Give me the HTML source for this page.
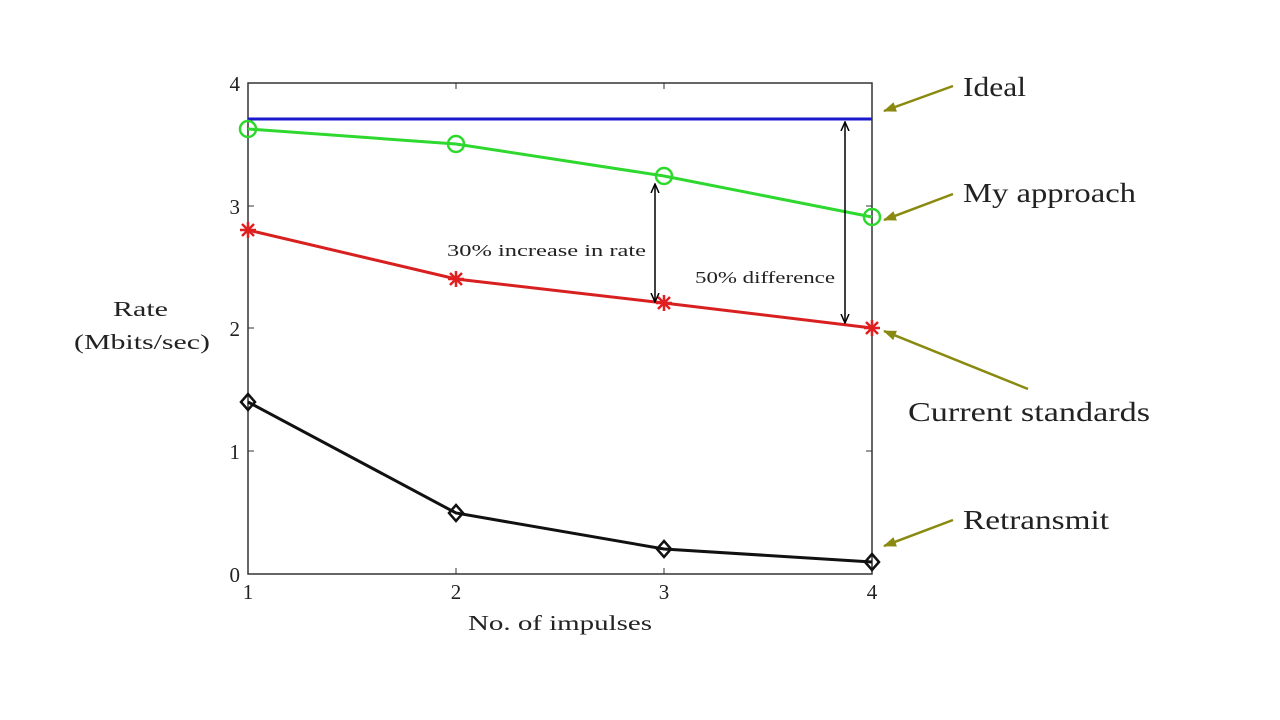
<!DOCTYPE html>
<html><head><meta charset="utf-8"><style>
html,body{margin:0;padding:0;background:#fff;}
svg{display:block;}
text{font-family:"Liberation Serif",serif;fill:#222;}
</style></head><body>
<svg width="1280" height="720" viewBox="0 0 1280 720" xmlns="http://www.w3.org/2000/svg">
<defs>
<marker id="ah" markerWidth="10" markerHeight="10" refX="9" refY="5" orient="auto" markerUnits="userSpaceOnUse">
<path d="M0,1 L9,5 L0,9" fill="none" stroke="#000" stroke-width="1.5"/></marker>
<marker id="oh" markerWidth="14" markerHeight="10" refX="12" refY="5" orient="auto" markerUnits="userSpaceOnUse">
<path d="M0,0 L13,5 L0,10 Z" fill="#8a8a10"/></marker>
</defs>
<rect x="248" y="83" width="624" height="491" fill="none" stroke="#333" stroke-width="1.5"/>
<g stroke="#333" stroke-width="1">
<line x1="456" y1="574" x2="456" y2="568"/><line x1="664" y1="574" x2="664" y2="568"/>
<line x1="456" y1="83" x2="456" y2="89"/><line x1="664" y1="83" x2="664" y2="89"/>
<line x1="248" y1="451" x2="254" y2="451"/><line x1="248" y1="328" x2="254" y2="328"/><line x1="248" y1="206" x2="254" y2="206"/>
<line x1="872" y1="451" x2="866" y2="451"/><line x1="872" y1="328" x2="866" y2="328"/><line x1="872" y1="206" x2="866" y2="206"/>
</g>
<g font-size="21" text-anchor="end">
<text x="240" y="582">0</text><text x="240" y="459">1</text><text x="240" y="336">2</text><text x="240" y="214">3</text><text x="240" y="91">4</text>
</g>
<g font-size="21" text-anchor="middle">
<text x="248" y="599">1</text><text x="456" y="599">2</text><text x="664" y="599">3</text><text x="872" y="599">4</text>
</g>
<g font-size="21">
<text x="468" y="630" textLength="184" lengthAdjust="spacingAndGlyphs">No. of impulses</text>
<text x="113" y="316" textLength="55" lengthAdjust="spacingAndGlyphs">Rate</text>
<text x="74" y="349" textLength="136" lengthAdjust="spacingAndGlyphs">(Mbits/sec)</text>
</g>
<line x1="248" y1="119" x2="872" y2="119" stroke="#1a1acc" stroke-width="3"/>
<polyline points="248,129 456,144 664,176 872,217" fill="none" stroke="#2ed82e" stroke-width="3"/>
<g fill="none" stroke="#2ed82e" stroke-width="2.5">
<circle cx="248" cy="129" r="8"/><circle cx="456" cy="144" r="8"/><circle cx="664" cy="176" r="8"/><circle cx="872" cy="217" r="8"/></g>
<polyline points="248,230 456,279 664,303 872,328" fill="none" stroke="#d82020" stroke-width="3"/>
<g stroke="#e02020" stroke-width="2.5">
<path d="M240,230h16M248,222v16M242,224l12,12M254,224l-12,12"/>
<path d="M448,279h16M456,271v16M450,273l12,12M462,273l-12,12"/>
<path d="M656,303h16M664,295v16M658,297l12,12M670,297l-12,12"/>
<path d="M864,328h16M872,320v16M866,322l12,12M878,322l-12,12"/>
</g>
<polyline points="248,402 456,513 664,549 872,562" fill="none" stroke="#111" stroke-width="3"/>
<g fill="none" stroke="#111" stroke-width="2.5">
<path d="M248,394l7,8l-7,8l-7,-8z"/><path d="M456,505l7,8l-7,8l-7,-8z"/><path d="M664,541l7,8l-7,8l-7,-8z"/><path d="M872,554l7,8l-7,8l-7,-8z"/>
</g>
<line x1="655" y1="240" x2="655" y2="184" stroke="#000" stroke-width="1.5" marker-end="url(#ah)"/>
<line x1="655" y1="240" x2="655" y2="302" stroke="#000" stroke-width="1.5" marker-end="url(#ah)"/>
<line x1="845" y1="220" x2="845" y2="122" stroke="#000" stroke-width="1.5" marker-end="url(#ah)"/>
<line x1="845" y1="220" x2="845" y2="323" stroke="#000" stroke-width="1.5" marker-end="url(#ah)"/>
<text x="447" y="256" font-size="17" textLength="199" lengthAdjust="spacingAndGlyphs">30% increase in rate</text>
<text x="695" y="283" font-size="17" textLength="140" lengthAdjust="spacingAndGlyphs">50% difference</text>
<g stroke="#8a8a10" stroke-width="2.5">
<line x1="953" y1="86" x2="884" y2="111" marker-end="url(#oh)"/>
<line x1="953" y1="194" x2="884" y2="220" marker-end="url(#oh)"/>
<line x1="1028" y1="389" x2="884" y2="331" marker-end="url(#oh)"/>
<line x1="953" y1="520" x2="884" y2="546" marker-end="url(#oh)"/>
</g>
<g font-size="27">
<text x="963" y="96" textLength="63" lengthAdjust="spacingAndGlyphs">Ideal</text>
<text x="963" y="202" textLength="173" lengthAdjust="spacingAndGlyphs">My approach</text>
<text x="908" y="421" textLength="242" lengthAdjust="spacingAndGlyphs">Current standards</text>
<text x="963" y="529" textLength="146" lengthAdjust="spacingAndGlyphs">Retransmit</text>
</g>
</svg>
</body></html>
